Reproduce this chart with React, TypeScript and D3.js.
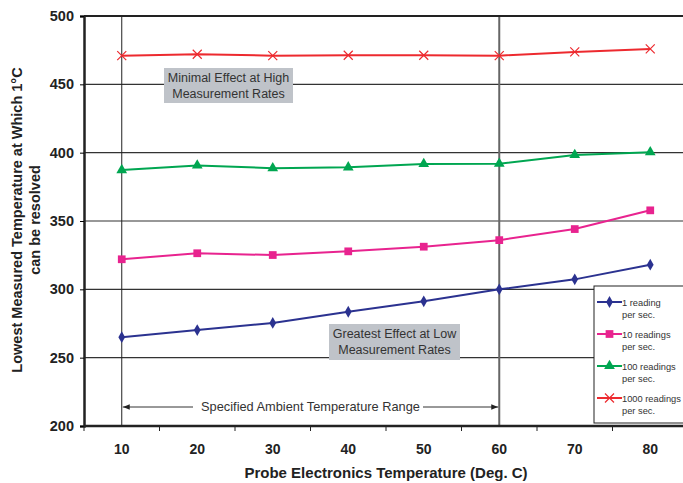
import React, { useEffect, useRef } from "react";
import * as d3 from "d3";

const temps = ["10", "20", "30", "40", "50", "60", "70", "80"];
const oneReading = [265, 270.2, 275.4, 283.6, 291.2, 300, 307.3, 318];
const tenReadings = [322, 326.4, 325.1, 327.8, 331.2, 336, 344.1, 357.8];
const hundredReadings = [387.3, 390.7, 388.6, 389.3, 391.7, 391.9, 398.3, 400.3];
const thousandReadings = [471, 472, 471, 471.3, 471.3, 471, 473.7, 475.9];
const yTicks = [200, 250, 300, 350, 400, 450, 500];

const series = [
  { name: ["1 reading", "per sec."], values: oneReading, color: "#2b3290", marker: "diamond" },
  { name: ["10 readings", "per sec."], values: tenReadings, color: "#e8238f", marker: "square" },
  { name: ["100 readings", "per sec."], values: hundredReadings, color: "#00a651", marker: "triangle" },
  { name: ["1000 readings", "per sec."], values: thousandReadings, color: "#ed2a2f", marker: "cross" },
];

const drawMarker = (g: any, type: string, x: number, y: number, color: string) => {
  if (type === "cross") {
    const s = 4.5;
    g.append("path")
      .attr("d", `M${x - s},${y - s}L${x + s},${y + s}M${x - s},${y + s}L${x + s},${y - s}`)
      .attr("stroke", color)
      .attr("stroke-width", 1.2)
      .attr("fill", "none");
    return;
  }
  const symType =
    type === "diamond" ? d3.symbolDiamond : type === "square" ? d3.symbolSquare : d3.symbolTriangle;
  const size = type === "diamond" ? 40 : type === "square" ? 60 : 50;
  g.append("path")
    .attr("d", d3.symbol().type(symType).size(size)())
    .attr("transform", `translate(${x},${y})`)
    .attr("fill", color);
};

export default function App() {
  const ref = useRef<SVGSVGElement>(null);

  useEffect(() => {
    const svg = d3.select(ref.current);
    svg.selectAll("*").remove();

    const margin = { top: 16, left: 84, bottom: 57, right: -5 };
    const width = 683;
    const height = 483;
    const innerWidth = width - margin.left - margin.right;
    const innerHeight = height - margin.top - margin.bottom;
    const font = "Arial, 'Liberation Sans', sans-serif";

    const x = d3.scaleBand().domain(temps).range([0, innerWidth]);
    const y = d3.scaleLinear().domain([200, 500]).range([innerHeight, 0]);
    const cx = (d: string) => (x(d) as number) + x.bandwidth() / 2;

    const g = svg.append("g").attr("transform", `translate(${margin.left},${margin.top})`);

    // horizontal gridlines
    g.selectAll(".grid")
      .data(yTicks.filter((t) => t !== 200 && t !== 500))
      .enter()
      .append("line")
      .attr("x1", 0)
      .attr("x2", innerWidth)
      .attr("y1", (d) => y(d))
      .attr("y2", (d) => y(d))
      .attr("stroke", "#333")
      .attr("stroke-width", 1.2);

    // vertical reference lines at 10 and 60
    g.append("line")
      .attr("x1", cx("10")).attr("x2", cx("10"))
      .attr("y1", 0).attr("y2", innerHeight)
      .attr("stroke", "#222").attr("stroke-width", 1);
    g.append("line")
      .attr("x1", cx("60")).attr("x2", cx("60"))
      .attr("y1", 0).attr("y2", innerHeight)
      .attr("stroke", "#666").attr("stroke-width", 2);

    // annotation boxes
    const note = (lines: string[], x0: number, y0: number, w: number, h: number) => {
      g.append("rect")
        .attr("x", x0).attr("y", y0).attr("width", w).attr("height", h)
        .attr("fill", "#bfc3c9");
      lines.forEach((l, i) => {
        g.append("text")
          .attr("x", x0 + w / 2)
          .attr("y", y0 + 14 + i * 16)
          .attr("text-anchor", "middle")
          .attr("font-family", font)
          .attr("font-size", 12.5)
          .attr("fill", "#333")
          .text(l);
      });
    };
    note(["Minimal Effect at High", "Measurement Rates"], 80, 52, 129, 35);
    note(["Greatest Effect at Low", "Measurement Rates"], 245, 308, 131, 36);

    // lines and markers
    series.forEach((s) => {
      const line = d3
        .line<number>()
        .x((_, i) => cx(temps[i]))
        .y((d) => y(d));
      g.append("path")
        .datum(s.values)
        .attr("d", line)
        .attr("fill", "none")
        .attr("stroke", s.color)
        .attr("stroke-width", 2);
      s.values.forEach((v, i) => drawMarker(g, s.marker, cx(temps[i]), y(v), s.color));
    });

    // range arrow
    svg.append("defs").append("marker")
      .attr("id", "ah")
      .attr("viewBox", "0 0 10 10")
      .attr("refX", 10).attr("refY", 5)
      .attr("markerWidth", 7).attr("markerHeight", 7)
      .attr("orient", "auto-start-reverse")
      .append("path").attr("d", "M0,1L10,5L0,9Z").attr("fill", "#222");
    const arrowY = 391;
    g.append("line")
      .attr("x1", 109).attr("x2", cx("10") + 1)
      .attr("y1", arrowY).attr("y2", arrowY)
      .attr("stroke", "#333").attr("marker-end", "url(#ah)");
    g.append("line")
      .attr("x1", 339).attr("x2", cx("60") - 1)
      .attr("y1", arrowY).attr("y2", arrowY)
      .attr("stroke", "#333").attr("marker-end", "url(#ah)");
    g.append("text")
      .attr("x", (cx("10") + cx("60")) / 2)
      .attr("y", arrowY + 4)
      .attr("text-anchor", "middle")
      .attr("font-family", font)
      .attr("font-size", 12.8)
      .attr("fill", "#333")
      .text("Specified Ambient Temperature Range");

    // frame
    g.append("line").attr("x1", 0).attr("x2", innerWidth).attr("y1", 0).attr("y2", 0)
      .attr("stroke", "#222").attr("stroke-width", 2);

    // axes
    const yAxis = d3.axisLeft(y).tickValues(yTicks).tickSize(4).tickPadding(6);
    const yAxisG = g.append("g").call(yAxis);
    yAxisG.select(".domain").attr("stroke", "#222").attr("stroke-width", 2.5);
    yAxisG.selectAll("text")
      .attr("font-family", font).attr("font-size", 14.5).attr("font-weight", "bold").attr("fill", "#222");

    const xTickPositions = d3.range(temps.length + 1).map((i) => i * x.step());
    const xAxisG = g.append("g").attr("transform", `translate(0,${innerHeight})`);
    xAxisG.append("line").attr("x1", 0).attr("x2", innerWidth).attr("y1", 0).attr("y2", 0)
      .attr("stroke", "#222").attr("stroke-width", 2.5);
    xAxisG.selectAll(".tk").data(xTickPositions).enter().append("line")
      .attr("x1", (d) => d).attr("x2", (d) => d).attr("y1", 0).attr("y2", 5)
      .attr("stroke", "#222");
    xAxisG.selectAll(".tl").data(temps).enter().append("text")
      .attr("x", (d) => cx(d)).attr("y", 28)
      .attr("text-anchor", "middle")
      .attr("font-family", font).attr("font-size", 14).attr("font-weight", "bold").attr("fill", "#222")
      .text((d) => d);

    // axis titles
    g.append("text")
      .attr("x", 302).attr("y", innerHeight + 52)
      .attr("text-anchor", "middle")
      .attr("font-family", font).attr("font-size", 15).attr("font-weight", "bold").attr("fill", "#222")
      .text("Probe Electronics Temperature (Deg. C)");
    const yTitle = svg.append("text")
      .attr("transform", `translate(0,${margin.top + 204}) rotate(-90)`)
      .attr("text-anchor", "middle")
      .attr("font-family", font).attr("font-size", 14.5).attr("font-weight", "bold").attr("fill", "#222");
    yTitle.append("tspan").attr("x", 0).attr("y", 22).text("Lowest Measured Temperature at Which 1°C");
    yTitle.append("tspan").attr("x", 0).attr("y", 40).text("can be resolved");

    // legend
    const lg = svg.append("g").attr("transform", "translate(594,286)");
    lg.append("rect").attr("x", 0).attr("y", 0).attr("width", 95).attr("height", 137)
      .attr("fill", "white").attr("stroke", "#222").attr("stroke-width", 1);
    series.forEach((s, i) => {
      const ly = 16 + i * 32;
      lg.append("line").attr("x1", 3).attr("x2", 28).attr("y1", ly).attr("y2", ly)
        .attr("stroke", s.color).attr("stroke-width", 2);
      drawMarker(lg, s.marker, 15.5, ly, s.color);
      s.name.forEach((t, j) => {
        lg.append("text")
          .attr("x", 28).attr("y", ly + 4 + j * 12)
          .attr("font-family", font).attr("font-size", 9.3).attr("fill", "#333")
          .text(t);
      });
    });
  }, []);

  return (
    <svg
      ref={ref}
      width={683}
      height={483}
      style={{ position: "absolute", left: 0, top: 0, background: "white" }}
    />
  );
}
